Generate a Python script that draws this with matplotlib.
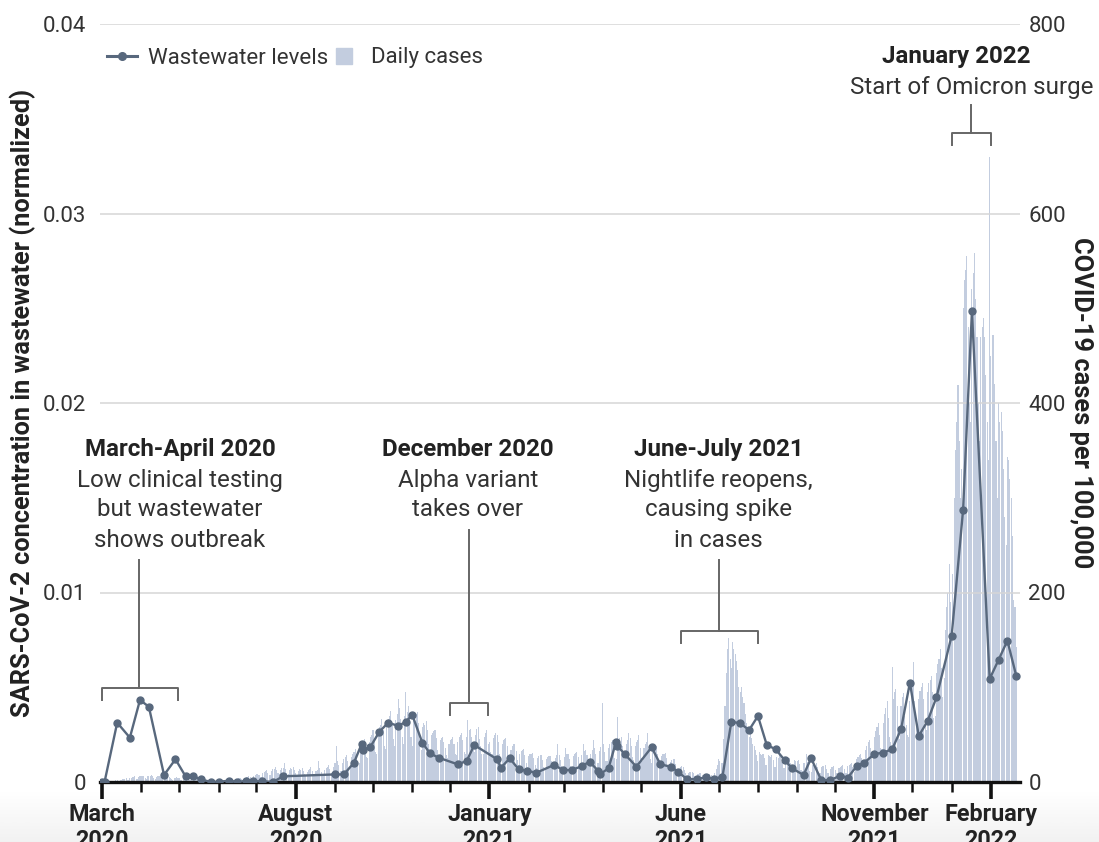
import matplotlib.pyplot as plt
import matplotlib.dates as mdates
from matplotlib.lines import Line2D
import numpy as np
import pandas as pd

plt.rcParams['font.family'] = ['Roboto', 'DejaVu Sans']

# wastewater samples (left axis, normalized concentration)
ww_dates = ["2020-03-01", "2020-03-03", "2020-03-13", "2020-03-23", "2020-03-31", "2020-04-07", "2020-04-19",
            "2020-04-28", "2020-05-06", "2020-05-12", "2020-05-18", "2020-05-26", "2020-06-01", "2020-06-09",
            "2020-06-16", "2020-06-23", "2020-06-28", "2020-07-05", "2020-07-14", "2020-07-22",
            "2020-09-01", "2020-09-08", "2020-09-16", "2020-09-22", "2020-09-23", "2020-09-29", "2020-10-06",
            "2020-10-13", "2020-10-21", "2020-10-27", "2020-11-01", "2020-11-09", "2020-11-15", "2020-11-22",
            "2020-12-07", "2020-12-14", "2020-12-20",
            "2021-01-07", "2021-01-10", "2021-01-17", "2021-01-24", "2021-01-31", "2021-02-07", "2021-02-21",
            "2021-02-28", "2021-03-07", "2021-03-15", "2021-03-21", "2021-03-28", "2021-03-29", "2021-04-05",
            "2021-04-11", "2021-04-12", "2021-04-18", "2021-04-27", "2021-05-09", "2021-05-16", "2021-05-24",
            "2021-05-30",
            "2021-06-06", "2021-06-14", "2021-06-21", "2021-06-27", "2021-07-04", "2021-07-11", "2021-07-18",
            "2021-07-25", "2021-08-01", "2021-08-08", "2021-08-15", "2021-08-22", "2021-08-28", "2021-09-06",
            "2021-09-12", "2021-09-20", "2021-09-27", "2021-10-05", "2021-10-11", "2021-10-18", "2021-10-24",
            "2021-11-01", "2021-11-08", "2021-11-15", "2021-11-22", "2021-11-29", "2021-12-06", "2021-12-13",
            "2021-12-20", "2022-01-01", "2022-01-10", "2022-01-17", "2022-01-31", "2022-02-07", "2022-02-14",
            "2022-02-21"]
ww_values = [0.0, 0.0, 0.00313, 0.00234, 0.00433, 0.00397, 0.00037, 0.0012, 0.0003, 0.0003, 0.00014, 0.0,
             0.0, 0.00007, 0.0, 0.00005, 0.00005, 0.00003, 0.0, 0.0003,
             0.0004, 0.0004, 0.00102, 0.002, 0.0017, 0.00186, 0.00265, 0.00313, 0.00296, 0.00318, 0.00354,
             0.00207, 0.00151, 0.00128, 0.00093, 0.00111, 0.00195,
             0.0012, 0.00075, 0.00125, 0.00067, 0.00058, 0.00049, 0.0009, 0.00063, 0.00063, 0.00084, 0.00107,
             0.00058, 0.0004, 0.00072, 0.00213, 0.0019, 0.00146, 0.00081, 0.00183, 0.00093, 0.00081, 0.00054,
             0.00014, 0.00016, 0.00025, 0.00016, 0.00028, 0.00318, 0.0031, 0.00274, 0.00348, 0.00195, 0.00173,
             0.00116, 0.00072, 0.00037, 0.00125, 0.0001, 0.0001, 0.00033, 0.00023, 0.00084, 0.00102,
             0.00148, 0.00155, 0.00173, 0.00278, 0.00524, 0.00243, 0.00322, 0.00447, 0.00772, 0.01435, 0.02485,
             0.00544, 0.00644, 0.00746, 0.0056]

# daily cases per 100,000 (right axis), one row per week starting Sunday 2020-03-01
cases_start = "2020-03-01"
cases_weeks = [
    [0, 0, 0, 0, 0, 1, 0], [0, 1, 1, 1, 2, 2, 1], [1, 2, 3, 3, 3, 4, 2], [2, 4, 4, 5, 5, 6, 3],
    [3, 5, 6, 6, 6, 6, 4], [3, 6, 6, 6, 7, 6, 4], [3, 5, 6, 6, 5, 5, 3], [3, 5, 5, 5, 5, 4, 3],
    [2, 4, 4, 5, 4, 4, 2], [2, 4, 4, 3, 4, 3, 2], [2, 3, 3, 3, 3, 3, 2], [1, 3, 3, 3, 3, 2, 2],
    [1, 2, 3, 2, 2, 2, 1], [1, 2, 2, 3, 2, 2, 1], [1, 2, 3, 3, 3, 2, 2], [2, 3, 3, 4, 4, 3, 2],
    [2, 4, 5, 5, 6, 5, 3], [3, 6, 7, 8, 8, 7, 5], [5, 9, 11, 12, 13, 10, 7], [7, 12, 14, 14, 16, 13, 9],
    [8, 13, 15, 15, 20, 14, 10], [8, 13, 15, 14, 16, 13, 9], [7, 12, 14, 13, 15, 12, 8], [7, 11, 13, 14, 16, 12, 8],
    [7, 12, 13, 22, 15, 11, 8], [8, 13, 15, 16, 18, 14, 10], [10, 16, 20, 38, 22, 18, 12],
    # Sep 2020
    [12, 20, 24, 26, 28, 22, 15], [15, 26, 30, 32, 35, 28, 20], [20, 34, 40, 42, 45, 38, 26],
    [25, 42, 48, 50, 55, 45, 32], [30, 52, 58, 60, 66, 55, 38], [35, 60, 66, 70, 75, 62, 45],
    [38, 65, 72, 88, 78, 66, 48], [40, 70, 95, 74, 80, 68, 48], [38, 66, 70, 72, 74, 62, 45],
    [34, 58, 62, 60, 64, 55, 40], [30, 50, 52, 54, 55, 46, 34], [26, 44, 46, 48, 42, 36, 28],
    [25, 40, 44, 45, 48, 40, 30], [28, 42, 48, 50, 52, 44, 32], [30, 48, 65, 55, 56, 48, 34],
    [32, 50, 56, 58, 45, 38, 30], [30, 48, 52, 55, 40, 42, 32],
    # Jan 2021
    [30, 46, 50, 52, 50, 42, 30], [26, 40, 44, 45, 46, 38, 26], [22, 34, 38, 40, 40, 33, 23],
    [18, 30, 33, 34, 35, 28, 20], [16, 27, 30, 30, 31, 25, 18], [15, 25, 27, 28, 28, 23, 16],
    [14, 24, 26, 27, 27, 22, 16], [15, 25, 28, 40, 29, 23, 17], [15, 26, 36, 30, 30, 24, 17],
    [16, 27, 30, 31, 32, 26, 18], [17, 28, 40, 33, 34, 28, 19], [18, 30, 34, 44, 36, 30, 20],
    [20, 33, 37, 83, 40, 32, 22], [22, 36, 40, 42, 44, 36, 25], [24, 69, 44, 46, 47, 38, 27],
    [24, 40, 44, 52, 46, 38, 26], [23, 38, 42, 44, 50, 36, 25], [22, 36, 40, 42, 52, 35, 24],
    [20, 32, 36, 37, 38, 30, 21], [17, 27, 30, 30, 31, 25, 17], [13, 21, 23, 24, 24, 19, 13],
    [9, 14, 16, 17, 16, 13, 9], [6, 10, 11, 11, 11, 9, 6], [5, 8, 8, 9, 9, 7, 5],
    [4, 7, 8, 8, 8, 7, 5], [6, 10, 14, 18, 24, 22, 20],
    # Jul 2021 spike
    [20, 45, 80, 115, 140, 152, 130], [120, 148, 140, 135, 128, 118, 100], [95, 100, 90, 83, 72, 62, 55],
    [48, 52, 46, 40, 38, 34, 28], [22, 32, 30, 28, 30, 25, 18], [18, 28, 27, 26, 28, 23, 16],
    [16, 26, 25, 34, 26, 21, 15], [15, 25, 24, 24, 25, 20, 14], [14, 23, 22, 22, 23, 19, 13],
    [12, 20, 20, 30, 21, 17, 12], [11, 18, 19, 19, 20, 16, 11], [10, 16, 17, 17, 18, 14, 10],
    [9, 14, 16, 16, 17, 13, 9], [9, 15, 16, 17, 18, 14, 10], [10, 17, 18, 19, 20, 16, 11],
    [14, 24, 26, 28, 30, 25, 18], [20, 34, 38, 42, 44, 36, 26], [28, 48, 54, 58, 62, 50, 36],
    [35, 62, 72, 78, 85, 68, 48], [42, 121, 88, 95, 98, 80, 56], [45, 80, 90, 94, 70, 60, 50],
    [48, 85, 95, 100, 127, 86, 60], [50, 88, 96, 100, 104, 88, 62], [55, 95, 104, 108, 112, 95, 68],
    [70, 115, 125, 130, 140, 120, 90], [110, 160, 185, 200, 230, 190, 150],
    # Jan 2022 Omicron
    [220, 300, 350, 380, 419, 360, 300], [330, 500, 530, 540, 555, 480, 400], [380, 520, 537, 558, 510, 470, 400],
    [360, 470, 480, 490, 470, 430, 380], [340, 660, 450, 472, 472, 420, 360], [300, 400, 380, 390, 370, 330, 280],
    [250, 343, 340, 320, 300, 260, 192], [185, 142],
]
daily_cases = [v for wk in cases_weeks for v in wk]

tick_dates = ["2020-03-01", "2020-08-01", "2021-01-01", "2021-06-01", "2021-11-01", "2022-02-01"]
tick_labels = ["March\n2020", "August\n2020", "January\n2021", "June\n2021", "November\n2021", "February\n2022"]

ann_titles = ["March-April 2020", "December 2020", "June-July 2021", "January 2022"]
ann_bodies = [["Low clinical testing", "but wastewater", "shows outbreak"],
              ["Alpha variant", "takes over"],
              ["Nightlife reopens,", "causing spike", "in cases"],
              ["Start of Omicron surge"]]
ann_spans = [("2020-03-01", "2020-04-30"), ("2020-12-01", "2020-12-31"),
             ("2021-06-01", "2021-08-01"), ("2022-01-01", "2022-02-01")]
ann_stem = ["2020-03-30", "2020-12-16", "2021-07-01", "2022-01-16"]
ann_bracket_y = [0.00496, 0.00417, 0.00798, 0.03425]
ann_stem_top = [0.01172, 0.0133, 0.01172, 0.03573]
ann_text_x = ["2020-05-01 12:00", "2020-12-15", "2021-07-01", "2022-01-05"]
ann_body_x = ["2020-05-01 12:00", "2020-12-15", "2021-07-01", "2022-01-17"]
ann_text_y = [0.01757, 0.01757, 0.01757, 0.03826]

line_color = '#58687d'
bar_color = '#c3cddf'
bracket_color = '#666666'

fig = plt.figure(figsize=(10.99, 8.42), dpi=100)

# faint grey band at the bottom edge, as in the screenshot
bg = fig.add_axes([0, 0, 1, 52 / 842], zorder=-10)
bg.imshow(np.linspace(1.0, 0.0, 50).reshape(-1, 1), aspect='auto', cmap='Greys_r',
          vmin=-8, vmax=1, extent=[0, 1, 0, 1])
bg.axis('off')

ax = fig.add_axes([100 / 1099, 60 / 842, 920 / 1099, 758 / 842])
axc = ax.twinx()
ax.set_zorder(axc.get_zorder() + 1)
ax.patch.set_visible(False)
axc.patch.set_visible(False)

case_dates = pd.date_range(cases_start, periods=len(daily_cases), freq='D')
axc.bar(case_dates, daily_cases, width=0.85, color=bar_color, linewidth=0)
ax.plot(pd.to_datetime(ww_dates), ww_values, color=line_color, lw=1.7, marker='o', ms=5, zorder=5)

ax.set_xlim(pd.Timestamp('2020-02-28 10:00'), pd.Timestamp('2022-02-23 23:00'))
ax.set_ylim(0, 0.04)
axc.set_ylim(0, 800)

ax.set_yticks([0, 0.01, 0.02, 0.03, 0.04])
ax.set_yticklabels(['0', '0.01', '0.02', '0.03', '0.04'])
axc.set_yticks([0, 200, 400, 600, 800])
ax.tick_params(axis='y', length=0, pad=10, labelsize=16, labelcolor='#333333')
axc.tick_params(axis='y', length=0, pad=6, labelsize=16, labelcolor='#333333')

ax.set_xticks(pd.to_datetime(tick_dates))
ax.set_xticklabels(tick_labels, fontweight='bold', fontsize=16.8, linespacing=1.2, color='#222222')
ax.xaxis.set_minor_locator(mdates.MonthLocator())
ax.tick_params(axis='x', which='major', length=12, width=2.6, color='#111111', pad=3)
ax.tick_params(axis='x', which='minor', length=7, width=1.8, color='#111111')

ax.yaxis.grid(True, color='#d6d6d6', lw=1.1)
ax.set_axisbelow(True)
for s in ['top', 'left', 'right']:
    ax.spines[s].set_visible(False)
for s in axc.spines.values():
    s.set_visible(False)
ax.spines['bottom'].set_linewidth(2.4)
ax.spines['bottom'].set_color('#111111')

ax.set_ylabel('SARS-CoV-2 concentration in wastewater (normalized)', fontsize=18.3,
              fontweight='bold', labelpad=5, color='#222222')
axc.set_ylabel('COVID-19 cases per 100,000', rotation=270, va='bottom', fontsize=18.3,
               fontweight='bold', labelpad=2, color='#222222')

# annotations with brackets
step = 0.001636
tick_h = 0.00063
for i in range(len(ann_titles)):
    x0, x1 = pd.Timestamp(ann_spans[i][0]), pd.Timestamp(ann_spans[i][1])
    xs = pd.Timestamp(ann_stem[i])
    yb = ann_bracket_y[i]
    ax.plot([x0, x0, x1, x1], [yb - tick_h, yb, yb, yb - tick_h], color=bracket_color, lw=1.4)
    ax.plot([xs, xs], [yb, ann_stem_top[i]], color=bracket_color, lw=1.4)
    ax.text(pd.Timestamp(ann_text_x[i]), ann_text_y[i], ann_titles[i], ha='center', va='center',
            fontsize=17.4, fontweight='bold', color='#222222')
    for j, line in enumerate(ann_bodies[i]):
        ax.text(pd.Timestamp(ann_body_x[i]), ann_text_y[i] - step * (j + 1) + 0.0001 * (j > 0), line,
                ha='center', va='center', fontsize=17.4, color='#333333')

handles = [Line2D([], [], color=line_color, lw=2.2, marker='o', ms=5.5),
           Line2D([], [], color=bar_color, marker='s', ls='none', ms=11)]
leg = ax.legend(handles, ['Wastewater levels', 'Daily cases'], loc='center left',
                bbox_to_anchor=(107 / 1099, 1 - 58 / 842), bbox_transform=fig.transFigure, ncol=2,
                frameon=False, fontsize=16, handlelength=1.35, handletextpad=0.5, columnspacing=0.05,
                borderpad=0, borderaxespad=0)
for t in leg.get_texts():
    t.set_color('#333333')

fig.savefig('out.png', dpi=100)
